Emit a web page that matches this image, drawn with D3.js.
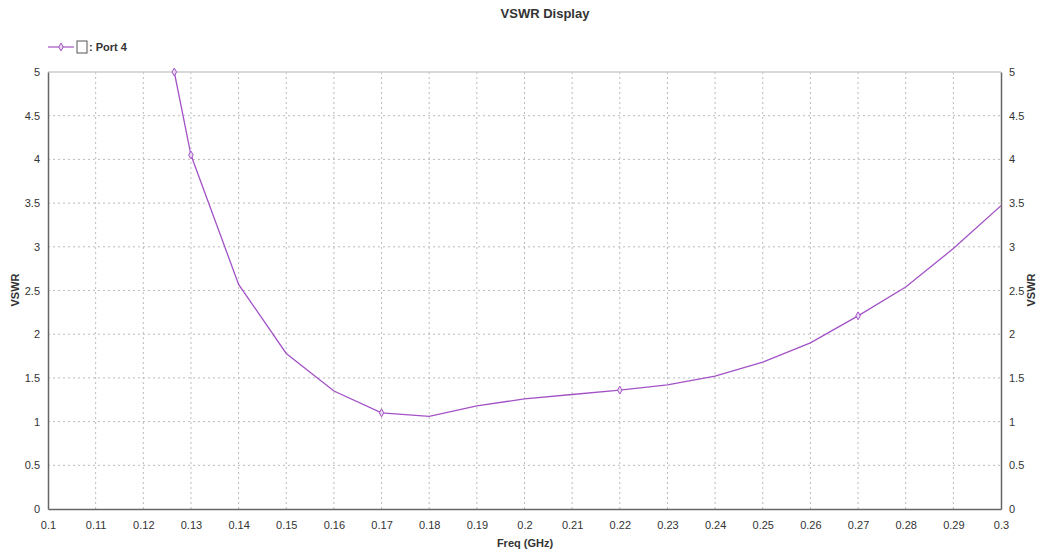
<!DOCTYPE html>
<html>
<head>
<meta charset="utf-8">
<script src="https://cdn.jsdelivr.net/npm/d3@7"></script>
<style>
  body { margin: 0; background: #fff; }
  text { font-family: "Liberation Sans Narrow", "Liberation Sans", Arial, sans-serif; fill: #333; }
</style>
</head>
<body>
<div id="chart"></div>
<script>
// VSWR samples, Port 4
const freqs = [0.1265, 0.13, 0.14, 0.15, 0.16, 0.17, 0.18, 0.19, 0.2, 0.21, 0.22, 0.23, 0.24, 0.25, 0.26, 0.27, 0.28, 0.29, 0.3];
const vswr  = [5.0, 4.05, 2.57, 1.78, 1.35, 1.10, 1.06, 1.18, 1.26, 1.31, 1.36, 1.42, 1.52, 1.68, 1.90, 2.21, 2.54, 2.98, 3.47];
const markerFreqs = [0.1265, 0.13, 0.17, 0.22, 0.27];
const xTicks = [0.1, 0.11, 0.12, 0.13, 0.14, 0.15, 0.16, 0.17, 0.18, 0.19, 0.2, 0.21, 0.22, 0.23, 0.24, 0.25, 0.26, 0.27, 0.28, 0.29, 0.3];
const yTicks = [0, 0.5, 1, 1.5, 2, 2.5, 3, 3.5, 4, 4.5, 5];

const W = 1044, H = 552;
const mLeft = 48, mRight = 1001, mTop = 72, mBottom = 509;
const lineColor = "#a352c6";

const svg = d3.select("#chart").append("svg")
    .attr("width", W)
    .attr("height", H);

const x = d3.scaleLinear().domain([0.1, 0.3]).range([mLeft, mRight]);
const y = d3.scaleLinear().domain([0, 5]).range([mBottom, mTop]);

// grid
svg.append("g")
    .selectAll("line")
    .data(xTicks.slice(1, -1))
    .join("line")
    .attr("x1", d => x(d)).attr("x2", d => x(d))
    .attr("y1", mTop).attr("y2", mBottom)
    .attr("stroke", "#bbb")
    .attr("stroke-dasharray", "2,3");

svg.append("g")
    .selectAll("line")
    .data(yTicks.slice(1, -1))
    .join("line")
    .attr("x1", mLeft).attr("x2", mRight)
    .attr("y1", d => y(d)).attr("y2", d => y(d))
    .attr("stroke", "#bbb")
    .attr("stroke-dasharray", "2,3");

// frame
svg.append("line")
    .attr("x1", mLeft).attr("x2", mRight)
    .attr("y1", mTop).attr("y2", mTop)
    .attr("stroke", "#ccc").attr("stroke-width", 1.5);

const xAxis = svg.append("g")
    .attr("transform", `translate(0,${mBottom})`)
    .call(d3.axisBottom(x).tickValues(xTicks).tickSize(0).tickPadding(12).tickFormat(d => d3.format("~g")(d)));

const yAxisL = svg.append("g")
    .attr("transform", `translate(${mLeft},0)`)
    .call(d3.axisLeft(y).tickValues(yTicks).tickSize(0).tickPadding(8).tickFormat(d3.format("~g")));

const yAxisR = svg.append("g")
    .attr("transform", `translate(${mRight},0)`)
    .call(d3.axisRight(y).tickValues(yTicks).tickSize(0).tickPadding(8).tickFormat(d3.format("~g")));

[xAxis, yAxisL, yAxisR].forEach(g => {
    g.select(".domain").attr("stroke", "#666").attr("stroke-width", 1.5);
    g.selectAll("text").attr("font-size", 11).attr("fill", "#444");
});

// line, clipped to plot area
svg.append("clipPath").attr("id", "plot")
    .append("rect").attr("x", mLeft).attr("y", mTop - 4).attr("width", mRight - mLeft).attr("height", mBottom - mTop + 4);

const pts = freqs.map((f, i) => [f, vswr[i]]);
const line = d3.line().x(d => x(d[0])).y(d => y(d[1]));

svg.append("path")
    .datum(pts)
    .attr("clip-path", "url(#plot)")
    .attr("d", line)
    .attr("fill", "none")
    .attr("stroke", lineColor)
    .attr("stroke-width", 1.3);

const diamond = d3.symbol().type(d3.symbolDiamond).size(18);
svg.append("g")
    .selectAll("path")
    .data(pts.filter(d => markerFreqs.includes(d[0])))
    .join("path")
    .attr("transform", d => `translate(${x(d[0])},${y(d[1])})`)
    .attr("d", diamond)
    .attr("fill", "#e8d8f0")
    .attr("stroke", lineColor)
    .attr("stroke-width", 1);

// title and labels
svg.append("text")
    .attr("x", 545).attr("y", 18)
    .attr("text-anchor", "middle")
    .attr("font-size", 13).attr("font-weight", "bold")
    .text("VSWR Display");

svg.append("text")
    .attr("x", 525).attr("y", 547)
    .attr("text-anchor", "middle")
    .attr("font-size", 11).attr("font-weight", "bold")
    .text("Freq (GHz)");

svg.append("text")
    .attr("transform", "translate(19,290) rotate(-90)")
    .attr("text-anchor", "middle")
    .attr("font-size", 11).attr("font-weight", "bold")
    .text("VSWR");

svg.append("text")
    .attr("transform", "translate(1035,290) rotate(-90)")
    .attr("text-anchor", "middle")
    .attr("font-size", 11).attr("font-weight", "bold")
    .text("VSWR");

// legend
const lg = svg.append("g").attr("transform", "translate(48,47)");
lg.append("line")
    .attr("x1", 0).attr("x2", 26).attr("y1", 0).attr("y2", 0)
    .attr("stroke", lineColor).attr("stroke-width", 1.2);
lg.append("path")
    .attr("transform", "translate(13,0)")
    .attr("d", diamond)
    .attr("fill", "#e8d8f0")
    .attr("stroke", lineColor);
lg.append("rect")
    .attr("x", 29).attr("y", -6).attr("width", 10).attr("height", 12)
    .attr("fill", "#fff").attr("stroke", "#555").attr("stroke-width", 1);
lg.append("text")
    .attr("x", 41).attr("y", 4)
    .attr("font-size", 11).attr("font-weight", "bold")
    .text(": Port 4");
</script>
</body>
</html>
